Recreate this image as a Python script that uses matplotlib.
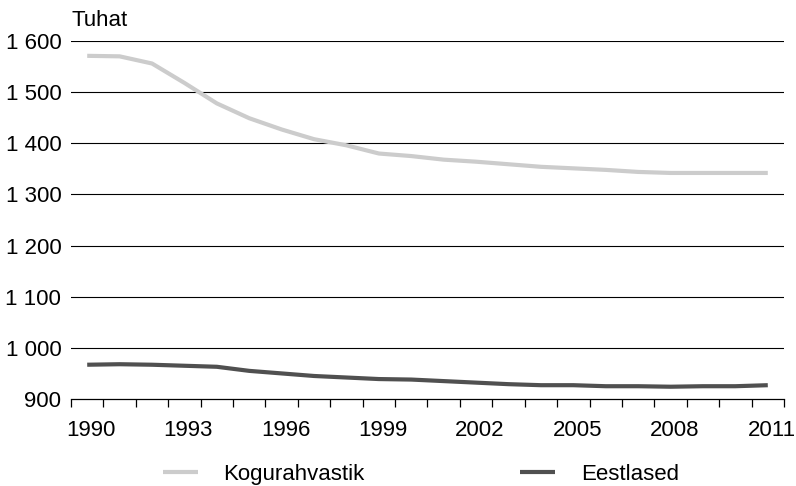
import matplotlib
matplotlib.use("Agg")
import matplotlib.pyplot as plt
import matplotlib.transforms as mtransforms
from matplotlib.ticker import FixedLocator, FuncFormatter

plt.rcParams['font.family'] = ['Liberation Sans', 'DejaVu Sans']

years = list(range(1990, 2012))
kogurahvastik = [1571, 1570, 1556, 1518, 1478, 1449, 1427, 1408, 1396, 1380, 1375,
                 1368, 1364, 1359, 1354, 1351, 1348, 1344, 1342, 1342, 1342, 1342]
eestlased = [967, 968, 967, 965, 963, 955, 950, 945, 942, 939, 938,
             935, 932, 929, 927, 927, 925, 925, 924, 925, 925, 927]
series_names = ["Kogurahvastik", "Eestlased"]
y_ticks = [900, 1000, 1100, 1200, 1300, 1400, 1500, 1600]
x_label_years = [1990, 1993, 1996, 1999, 2002, 2005, 2008, 2011]
unit_label = "Tuhat"

FS = 16

fig = plt.figure(figsize=(7.96, 4.86), dpi=100)
ax = fig.add_axes([71 / 796, 1 - 399 / 486, 713 / 796, 358 / 486])

pos = list(range(len(years)))
ax.plot(pos, kogurahvastik, color="#cccccc", lw=3.0, solid_capstyle="butt",
        label=series_names[0], zorder=3)
ax.plot(pos, eestlased, color="#505050", lw=3.0, solid_capstyle="butt",
        label=series_names[1], zorder=3)

ax.set_xlim(-0.5, len(years) - 0.5)
ax.set_ylim(y_ticks[0], y_ticks[-1])

# horizontal grid
for v in y_ticks[1:]:
    ax.axhline(v, color="black", lw=0.8, zorder=1)

for s in ["top", "right", "left"]:
    ax.spines[s].set_visible(False)
ax.spines["bottom"].set_linewidth(0.9)

ax.set_yticks(y_ticks)
ax.yaxis.set_major_formatter(FuncFormatter(lambda v, p: f"{int(v):,}".replace(",", " ")))
ax.tick_params(axis="y", length=0, pad=7, labelsize=FS)

label_pos = [years.index(y) for y in x_label_years]
ax.set_xticks(label_pos)
ax.set_xticklabels([str(y) for y in x_label_years])
ax.xaxis.set_minor_locator(FixedLocator([p - 0.5 for p in range(len(years) + 1)]))
ax.tick_params(axis="x", which="major", length=0, pad=15, labelsize=FS)
ax.tick_params(axis="x", which="minor", length=6, width=0.9, color="black")
shift = mtransforms.ScaledTranslation(4 / 100, 0, fig.dpi_scale_trans)
for lbl in ax.get_xticklabels():
    lbl.set_transform(lbl.get_transform() + shift)

fig.text(72 / 796, 1 - 20 / 486, unit_label, fontsize=FS, ha="left", va="center")

fig.legend(loc="center", bbox_to_anchor=(421 / 796, 1 - 474 / 486), ncol=2,
           frameon=False, fontsize=FS, handlelength=1.55, handletextpad=1.17,
           columnspacing=7.0)

fig.savefig("out.png", dpi=100)
